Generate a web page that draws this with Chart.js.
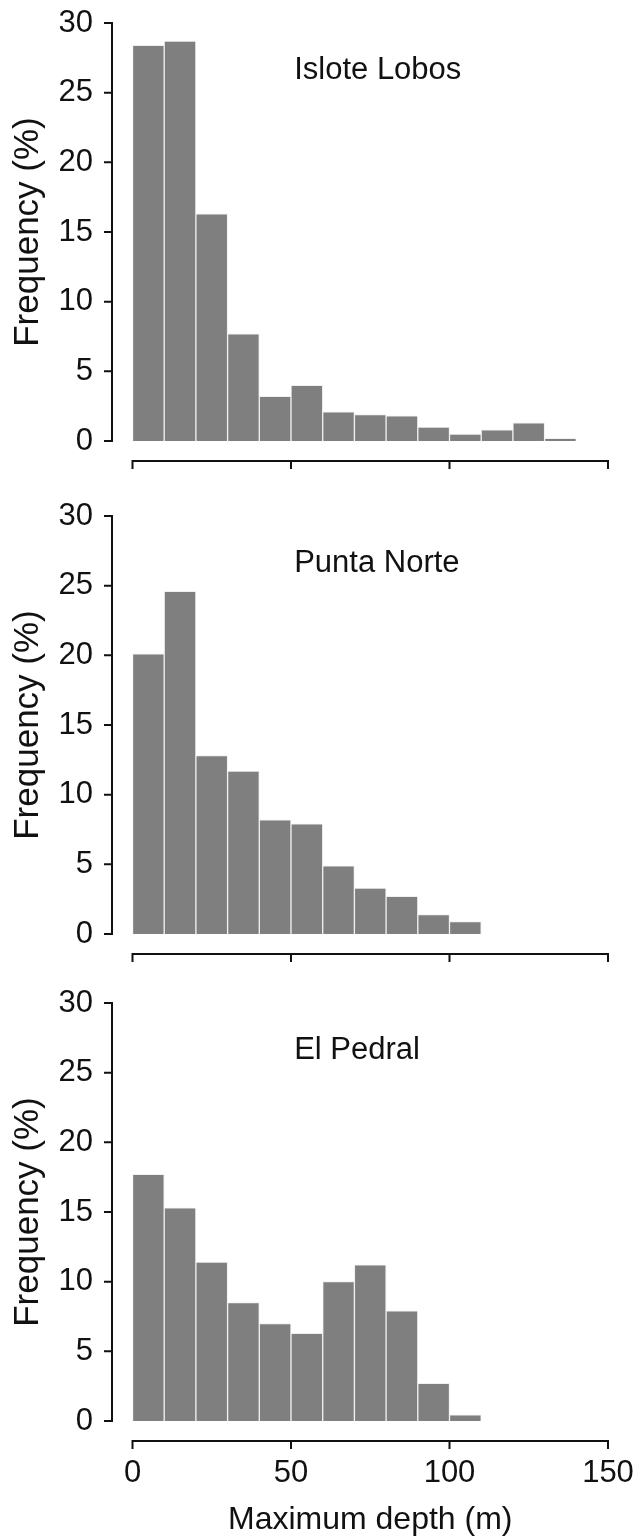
<!DOCTYPE html>
<html>
<head>
<meta charset="utf-8">
<script src="https://cdn.jsdelivr.net/npm/chart.js@4/dist/chart.umd.min.js"></script>
<style>
  html, body { margin: 0; padding: 0; background: #fff; }
  #wrap { position: relative; width: 634px; height: 1537px; background: #fff; overflow: hidden; }
  canvas { position: absolute; left: 0; }
</style>
</head>
<body>
<div id="wrap">
  <canvas id="c1" width="634" height="493" style="top:0px"></canvas>
  <canvas id="c2" width="634" height="487" style="top:493px"></canvas>
  <canvas id="c3" width="634" height="557" style="top:980px"></canvas>
</div>
<script>
// ---- Data ----
const binMidpoints = [5, 15, 25, 35, 45, 55, 65, 75, 85, 95, 105, 115, 125, 135]; // Maximum depth (m), 10 m bins
const isloteLobos = [28.4, 28.7, 16.3, 7.7, 3.2, 4.0, 2.1, 1.9, 1.8, 1.0, 0.5, 0.8, 1.3, 0.2];
const puntaNorte  = [20.1, 24.6, 12.8, 11.7, 8.2, 7.9, 4.9, 3.3, 2.7, 1.4, 0.9];
const elPedral    = [17.7, 15.3, 11.4, 8.5, 7.0, 6.3, 10.0, 11.2, 7.9, 2.7, 0.45];
const panelNames  = ['Islote Lobos', 'Punta Norte', 'El Pedral'];
const yTickStep = 5, yMin = 0, yMax = 30;
const xTickStep = 50, xMin = 0, xMax = 150;
const yTitle = 'Frequency (%)';
const xTitle = 'Maximum depth (m)';

const TICK_FONT = "'Liberation Sans Narrow', 'Liberation Sans', Arial, sans-serif";
const TEXT_FONT = "'Liberation Sans', Arial, sans-serif";

// Detached R-style axes
const detachedAxes = {
  id: 'detachedAxes',
  afterDraw(chart) {
    const { ctx, chartArea, scales: { x, y } } = chart;
    const ax = chartArea.left - 20.5;
    const ay = chartArea.bottom + 20;
    ctx.save();
    ctx.strokeStyle = '#111';
    ctx.lineWidth = 2;
    ctx.lineCap = 'square';
    ctx.beginPath();
    const yTop = y.getPixelForValue(y.max), yBot = y.getPixelForValue(y.min);
    ctx.moveTo(ax, yTop); ctx.lineTo(ax, yBot);
    y.ticks.forEach(t => {
      const p = y.getPixelForValue(t.value);
      ctx.moveTo(ax - 7, p); ctx.lineTo(ax, p);
    });
    const xL = x.getPixelForValue(x.min), xR = x.getPixelForValue(x.max);
    ctx.moveTo(xL, ay); ctx.lineTo(xR, ay);
    x.ticks.forEach(t => {
      const p = x.getPixelForValue(t.value);
      ctx.moveTo(p, ay); ctx.lineTo(p, ay + 7);
    });
    ctx.stroke();
    ctx.restore();
  }
};

// Panel name inside plot
const panelLabel = {
  id: 'panelLabel',
  afterDraw(chart, args, opts) {
    const { ctx, scales: { x, y } } = chart;
    ctx.save();
    ctx.fillStyle = '#111';
    ctx.font = "31px " + TEXT_FONT;
    ctx.textAlign = 'left';
    ctx.textBaseline = 'middle';
    ctx.fillText(opts.text, x.getPixelForValue(opts.atX), y.getPixelForValue(opts.atY));
    ctx.restore();
  }
};

function zeroPadding(scale) {
  scale.paddingTop = 0; scale.paddingBottom = 0;
  scale.paddingLeft = 0; scale.paddingRight = 0;
}

function makePanel(id, values, name, isLast, canvasH) {
  const points = values.map((v, i) => ({ x: binMidpoints[i], y: v }));
  const chartBottom = 441;
  return new Chart(document.getElementById(id), {
    type: 'bar',
    data: {
      datasets: [{
        data: points,
        backgroundColor: '#7f7f7f',
        borderColor: '#f0f0f0',
        borderWidth: 1,
        barPercentage: 1,
        categoryPercentage: 1
      }]
    },
    options: {
      responsive: false,
      animation: false,
      devicePixelRatio: 1,
      layout: { padding: { top: 23, right: 26, left: 0, bottom: 0 } },
      plugins: {
        legend: { display: false },
        tooltip: { enabled: false },
        panelLabel: { text: name, atX: 51, atY: 26.6 }
      },
      scales: {
        x: {
          type: 'linear',
          offset: false,
          min: xMin, max: xMax,
          grid: { display: false, drawTicks: true, tickLength: 34 },
          border: { display: false },
          ticks: {
            display: isLast,
            stepSize: xTickStep,
            padding: 0,
            color: '#111',
            font: { family: TICK_FONT, size: 31 },
            maxRotation: 0
          },
          title: {
            display: isLast,
            text: xTitle,
            color: '#111',
            font: { family: TEXT_FONT, size: 32, lineHeight: 1 },
            padding: { top: 0, bottom: 1 }
          },
          afterFit(scale) { scale.height = canvasH - chartBottom; zeroPadding(scale); }
        },
        y: {
          min: yMin, max: yMax,
          grid: { display: false, drawTicks: true, tickLength: 39.5 },
          border: { display: false },
          ticks: {
            stepSize: yTickStep,
            padding: 0,
            color: '#111',
            font: { family: TICK_FONT, size: 31 }
          },
          title: {
            display: true,
            text: yTitle,
            color: '#111',
            font: { family: TEXT_FONT, size: 35, lineHeight: 1 },
            padding: { top: 11, bottom: 0 }
          },
          afterFit(scale) { scale.width = 132.5; zeroPadding(scale); }
        }
      }
    },
    plugins: [detachedAxes, panelLabel]
  });
}

makePanel('c1', isloteLobos, panelNames[0], false, 493);
makePanel('c2', puntaNorte,  panelNames[1], false, 487);
makePanel('c3', elPedral,    panelNames[2], true, 557);
</script>
</body>
</html>
